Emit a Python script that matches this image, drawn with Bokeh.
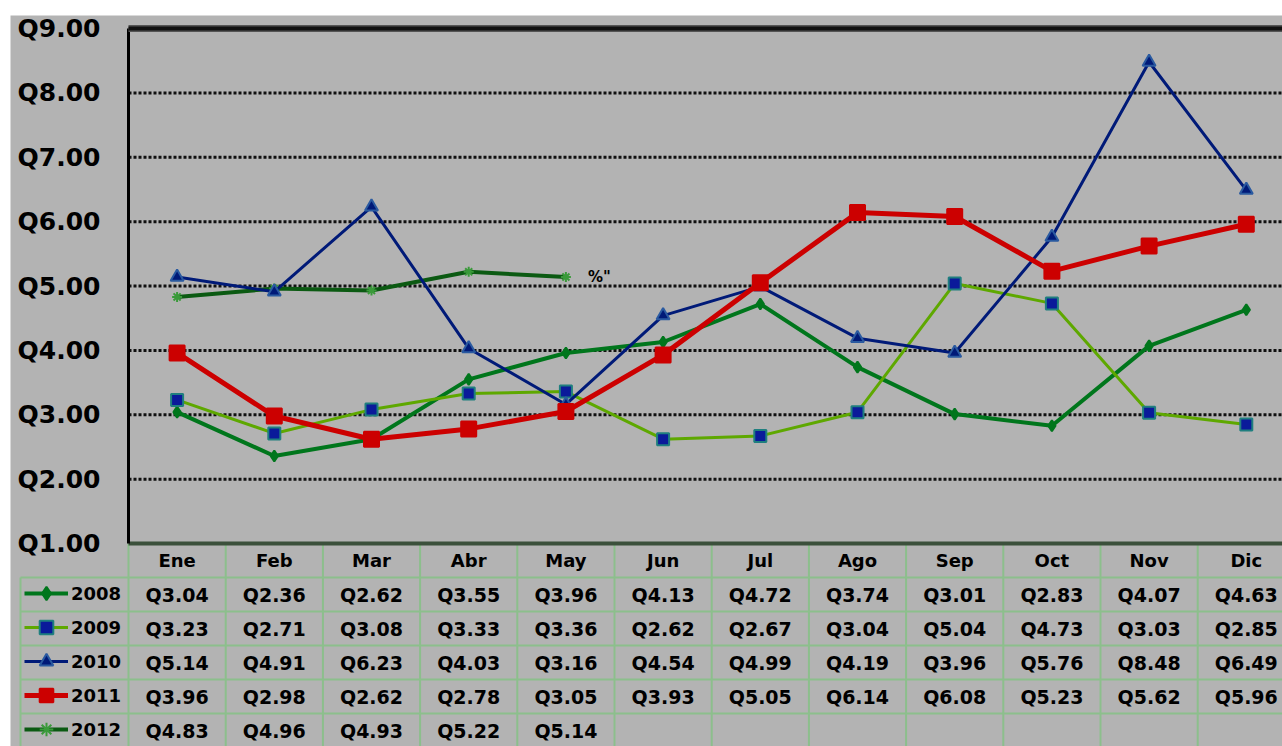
from bokeh.plotting import figure
from bokeh.models import Range1d, Legend, LegendItem
from bokeh.core.properties import value
from bokeh.embed import file_html
from bokeh.resources import INLINE

# ---------------- data ----------------
months = ["Ene", "Feb", "Mar", "Abr", "May", "Jun", "Jul", "Ago", "Sep", "Oct", "Nov", "Dic"]
years = ["2008", "2009", "2010", "2011", "2012"]
v2008 = [3.04, 2.36, 2.62, 3.55, 3.96, 4.13, 4.72, 3.74, 3.01, 2.83, 4.07, 4.63]
v2009 = [3.23, 2.71, 3.08, 3.33, 3.36, 2.62, 2.67, 3.04, 5.04, 4.73, 3.03, 2.85]
v2010 = [5.14, 4.91, 6.23, 4.03, 3.16, 4.54, 4.99, 4.19, 3.96, 5.76, 8.48, 6.49]
v2011 = [3.96, 2.98, 2.62, 2.78, 3.05, 3.93, 5.05, 6.14, 6.08, 5.23, 5.62, 5.96]
v2012 = [4.83, 4.96, 4.93, 5.22, 5.14]
y_ticks = [1, 2, 3, 4, 5, 6, 7, 8, 9]
y_tick_labels = ["Q1.00", "Q2.00", "Q3.00", "Q4.00", "Q5.00", "Q6.00", "Q7.00", "Q8.00", "Q9.00"]
stray_label = '%"'

series = [v2008, v2009, v2010, v2011, v2012]

GRAY = "#b3b3b3"
TBL = "#8cbf8c"
FONT = value("DejaVu Sans")

# layout (pixels of the page)
PX_COL = 97.2            # width of one month column
PX_UNIT = 64.375         # pixels per Q1.00
PLOT_LEFT = 128          # x of the value axis
FIG_LEFT, FIG_TOP = 10, 15
AXIS_TOP, AXIS_BOTTOM = 28, 543
ROW_H = 34.0

W = 1282 - FIG_LEFT
H = 746 - FIG_TOP
x0 = -(PLOT_LEFT - FIG_LEFT) / PX_COL
x1 = (1282 - PLOT_LEFT) / PX_COL
ytop = y_ticks[-1] + (AXIS_TOP - FIG_TOP) / PX_UNIT
ybot = y_ticks[0] - (746 - AXIS_BOTTOM) / PX_UNIT

p = figure(width=W, height=H,
           x_range=Range1d(x0, x1), y_range=Range1d(ybot, ytop),
           output_backend="svg", toolbar_location=None,
           min_border_left=0, min_border_right=0,
           min_border_top=0, min_border_bottom=0)
p.margin = (FIG_TOP, 0, 0, FIG_LEFT)
p.background_fill_color = GRAY
p.border_fill_color = GRAY
p.outline_line_color = None
p.xaxis.visible = False
p.yaxis.visible = False
p.grid.visible = False

# table range: one unit per row, rows counted downward from the x axis
p.extra_y_ranges = {"tbl": Range1d(start=(746 - AXIS_BOTTOM) / ROW_H,
                                   end=-(AXIS_BOTTOM - FIG_TOP) / ROW_H)}

ncol = len(months)
nrow = len(years)
leg_left = x0 + 10 / PX_COL   # left edge of the legend column

# dotted value grid
grid_vals = y_ticks[1:-1]
p.segment(x0=[0] * len(grid_vals), y0=grid_vals, x1=[ncol] * len(grid_vals), y1=grid_vals,
          line_color="#111111", line_width=3, line_dash="3 2")

# value labels (Q1.00 ... Q9.00) to the left of the axis
p.text(x=[0] * len(y_ticks), y=y_ticks, text=y_tick_labels, x_offset=-28,
       text_align="right", text_baseline="middle", text_font=FONT,
       text_font_style="bold", text_font_size="25px", text_color="black")

# table grid lines
p.segment(x0=list(range(ncol + 1)), y0=[0] * (ncol + 1), x1=list(range(ncol + 1)),
          y1=[nrow + 1] * (ncol + 1), y_range_name="tbl", line_color=TBL, line_width=2)
p.segment(x0=[leg_left], y0=[1], x1=[leg_left], y1=[nrow + 1], y_range_name="tbl",
          line_color=TBL, line_width=2)
p.segment(x0=[leg_left] * nrow, y0=list(range(1, nrow + 1)), x1=[ncol] * nrow,
          y1=list(range(1, nrow + 1)), y_range_name="tbl", line_color=TBL, line_width=2)

# axis frame lines
p.segment(x0=[0], y0=[y_ticks[0]], x1=[ncol], y1=[y_ticks[0]], line_color="#3b503b", line_width=4)
p.segment(x0=[0], y0=[y_ticks[0]], x1=[0], y1=[y_ticks[-1]], line_color="black", line_width=3)
p.segment(x0=[0], y0=[y_ticks[-1]], x1=[ncol], y1=[y_ticks[-1]], line_color="#555555", line_width=7)
p.segment(x0=[0], y0=[y_ticks[-1]], x1=[ncol], y1=[y_ticks[-1]], line_color="#111111", line_width=4)

styles = {
    "2008": dict(lc="#00761c", lw=4, marker="diamond", size=11, fill="#00761c", mline="#00761c"),
    "2009": dict(lc="#5ea800", lw=3, marker="square", size=12, fill="#0a1a9a", mline="#1f7f7f"),
    "2010": dict(lc="#001a78", lw=3, marker="triangle", size=13, fill="#001a78", mline="#2a5aa0"),
    "2011": dict(lc="#cc0000", lw=5, marker="square", size=15, fill="#cc0000", mline="#cc0000"),
    "2012": dict(lc="#0b5a12", lw=4, marker="asterisk", size=10, fill="#3a9a3a", mline="#3a9a3a"),
}

renderers = {}
for yr in ["2012", "2008", "2009", "2010", "2011"]:
    vals = series[years.index(yr)]
    xs = [i + 0.5 for i in range(len(vals))]
    s = styles[yr]
    lr = p.line(xs, vals, line_color=s["lc"], line_width=s["lw"])
    sr = p.scatter(xs, vals, marker=s["marker"], size=s["size"], fill_color=s["fill"],
                   line_color=s["mline"], line_width=2)
    renderers[yr] = [lr, sr]

# stray label next to the last 2012 point
p.text(x=[len(v2012) - 0.5], y=[v2012[-1]], text=[stray_label], x_offset=22,
       text_baseline="middle", text_font=FONT, text_font_style="bold",
       text_font_size="15px", text_color="black")

# table header
p.text(x=[i + 0.5 for i in range(ncol)], y=[0.5] * ncol, text=months, y_range_name="tbl",
       text_align="center", text_baseline="middle", text_font=FONT,
       text_font_style="bold", text_font_size="18px", text_color="black")

# table values
tx, ty, tt = [], [], []
for r, vals in enumerate(series):
    for i, v in enumerate(vals):
        tx.append(i + 0.5)
        ty.append(r + 1.5)
        tt.append("Q%.2f" % v)
p.text(x=tx, y=ty, text=tt, y_range_name="tbl", text_align="center",
       text_baseline="middle", text_font=FONT, text_font_style="bold",
       text_font_size="19px", text_color="black")

legend = Legend(items=[LegendItem(label=yr, renderers=renderers[yr]) for yr in years],
                location=(14, 0), orientation="vertical",
                glyph_width=44, glyph_height=34, label_height=34,
                spacing=0, padding=0, margin=0, label_standoff=3,
                label_text_font="DejaVu Sans", label_text_font_style="bold",
                label_text_font_size="18px", label_text_color="black",
                border_line_color=None, background_fill_alpha=0)
p.add_layout(legend)

open("out.html", "w").write(file_html(p, INLINE))
